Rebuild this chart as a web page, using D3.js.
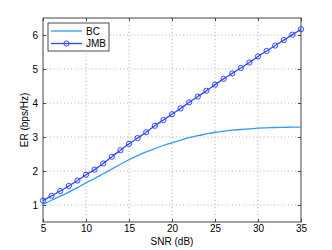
<!DOCTYPE html>
<html><head><meta charset="utf-8">
<script src="https://cdn.jsdelivr.net/npm/d3@7"></script>
<style>body{margin:0;background:#fff}svg{display:block}text{font-family:"Liberation Sans",Arial,sans-serif}</style>
</head><body><svg id="c" width="332" height="250"></svg>
<script>
const snr = d3.range(5, 36);
const bc = [1.02,1.14,1.26,1.38,1.51,1.65,1.78,1.92,2.06,2.20,2.33,2.45,2.56,2.66,2.75,2.83,2.91,2.98,3.04,3.09,3.14,3.17,3.20,3.22,3.24,3.26,3.27,3.28,3.285,3.29,3.29];
const jmb = [1.13,1.27,1.41,1.56,1.72,1.89,2.04,2.22,2.42,2.61,2.80,2.97,3.14,3.33,3.50,3.67,3.84,4.02,4.19,4.36,4.54,4.71,4.87,5.03,5.19,5.37,5.53,5.69,5.85,6.01,6.17];
const xTicks = [5,10,15,20,25,30,35];
const yTicks = [1,2,3,4,5,6];
const seriesNames = ["BC","JMB"];

const svg = d3.select("#c");
const L=43,R=301,T=18,B=222;
const x = d3.scaleLinear().domain([5,35]).range([L,R]);
const y = d3.scaleLinear().domain([0.5,6.5]).range([B,T]);

// grid
const g = svg.append("g");
g.selectAll(".gx").data(xTicks.slice(1,-1)).join("line")
 .attr("x1",d=>x(d)).attr("x2",d=>x(d)).attr("y1",T).attr("y2",B)
 .attr("stroke","#999").attr("stroke-width",0.8).attr("stroke-dasharray","1,2.5");
g.selectAll(".gy").data(yTicks).join("line")
 .attr("y1",d=>y(d)).attr("y2",d=>y(d)).attr("x1",L).attr("x2",R)
 .attr("stroke","#999").attr("stroke-width",0.8).attr("stroke-dasharray","1,2.5");

// axes
svg.append("g").attr("transform",`translate(0,${B})`)
 .call(d3.axisBottom(x).tickValues(xTicks).tickFormat(d3.format("d")).tickSizeInner(-3).tickSizeOuter(0).tickPadding(3));
svg.append("g").attr("transform",`translate(${L},0)`)
 .call(d3.axisLeft(y).tickValues(yTicks).tickFormat(d3.format("d")).tickSizeInner(-3).tickSizeOuter(0).tickPadding(5));
svg.append("g").attr("transform",`translate(0,${T})`)
 .call(d3.axisTop(x).tickValues(xTicks).tickSizeInner(-3).tickSizeOuter(0).tickFormat(""));
svg.append("g").attr("transform",`translate(${R},0)`)
 .call(d3.axisRight(y).tickValues(yTicks).tickSizeInner(-3).tickSizeOuter(0).tickFormat(""));
svg.selectAll(".domain").remove();
svg.selectAll(".tick line").attr("stroke","#444");
svg.selectAll(".tick text").attr("font-size",10).attr("fill","#000").style("font-family","Liberation Sans, Arial, sans-serif");
svg.append("rect").attr("x",L).attr("y",T).attr("width",R-L).attr("height",B-T)
 .attr("fill","none").attr("stroke","#444").attr("stroke-width",1);

// lines
const line = d3.line().x((d,i)=>x(snr[i])).y(d=>y(d)).curve(d3.curveMonotoneX);
svg.append("path").datum(bc).attr("d",line).attr("fill","none").attr("stroke","#3399ff").attr("stroke-width",1.3);
svg.append("path").datum(jmb).attr("d",line).attr("fill","none").attr("stroke","#3344ff").attr("stroke-width",1.3);
svg.selectAll(".m").data(jmb).join("circle").attr("cx",(d,i)=>x(snr[i])).attr("cy",d=>y(d)).attr("r",2.6)
 .attr("fill","none").attr("stroke","#3344ff").attr("stroke-width",1);

// labels
svg.append("text").attr("x",(L+R)/2).attr("y",245).attr("text-anchor","middle").attr("font-size",10).text("SNR (dB)");
svg.append("text").attr("transform",`translate(28,${(T+B)/2}) rotate(-90)`).attr("text-anchor","middle").attr("font-size",10).text("ER (bps/Hz)");

// legend
const lg = svg.append("g");
lg.append("rect").attr("x",48).attr("y",23).attr("width",61).attr("height",28).attr("fill","#fff").attr("stroke","#222").attr("stroke-width",0.8);
const colors=["#3399ff","#3344ff"];
seriesNames.forEach((n,i)=>{
  const yy = 31+i*12.5;
  lg.append("line").attr("x1",51).attr("x2",82).attr("y1",yy).attr("y2",yy).attr("stroke",colors[i]).attr("stroke-width",1.3);
  if(i===1) lg.append("circle").attr("cx",66.5).attr("cy",yy).attr("r",2.6).attr("fill","none").attr("stroke",colors[i]);
  lg.append("text").attr("x",86).attr("y",yy+3.5).attr("font-size",10).text(n);
});
</script></body></html>
